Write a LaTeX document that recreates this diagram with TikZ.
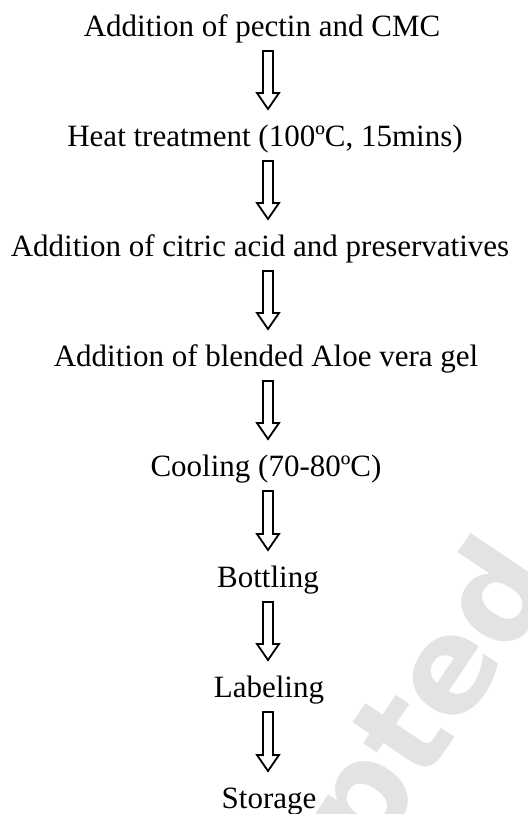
\documentclass[tikz,border=0pt]{standalone}
\usepackage{fontspec}
\setmainfont{Liberation Serif}
\setsansfont{DejaVu Sans}
\usetikzlibrary{calc}

\tikzset{
  stage/.style={font=\fontsize{15.5}{18}\selectfont, anchor=base, inner sep=0pt},
  hollow/.style={draw=black, line width=0.9pt, fill=white, line join=miter},
  watermark/.style={text=gray!22, font=\sffamily\bfseries\fontsize{66}{66}\selectfont, inner sep=0pt},
}
% hollow down arrow between two stages, on the common axis
\newcommand\flowarrow[2]{%
  \draw[hollow] let \p1=($(#1.base -| axis)+(0,15)$), \p2=($(#2.base -| axis)+(0,-37)$) in
    (\x1-2.5pt,\y1) -- (\x1+2.5pt,\y1) -- (\x1+2.5pt,\y2+8pt) -- (\x1+5.5pt,\y2+8pt)
    -- (\x1,\y2) -- (\x1-5.5pt,\y2+8pt) -- (\x1-2.5pt,\y2+8pt) -- cycle;}

\begin{document}
\begin{tikzpicture}[x=0.5pt, y=-0.5pt]
    \useasboundingbox (0,0) rectangle (527,814);
    % watermark
    \node[watermark, rotate=56, anchor=base east] (wm) at (561,580) {Accepted};
    \coordinate (axis) at (268,0);
    % process steps
    \node[stage] (pectin)   at (262,36)  {Addition of pectin and CMC};
    \node[stage] (heat)     at (265,146) {Heat treatment (100ºC, 15mins)};
    \node[stage] (citric)   at (260,256) {Addition of citric acid and preservatives};
    \node[stage] (aloe)     at (266,366) {Addition of blended Aloe vera gel};
    \node[stage] (cooling)  at (266,476) {Cooling (70-80ºC)};
    \node[stage] (bottling) at (268,587) {Bottling};
    \node[stage] (labeling) at (269,697) {Labeling};
    \node[stage] (storage)  at (269,808) {Storage};
    \foreach \a/\b in {pectin/heat, heat/citric, citric/aloe, aloe/cooling,
                       cooling/bottling, bottling/labeling, labeling/storage}
        \flowarrow{\a}{\b};
\end{tikzpicture}
\end{document}
